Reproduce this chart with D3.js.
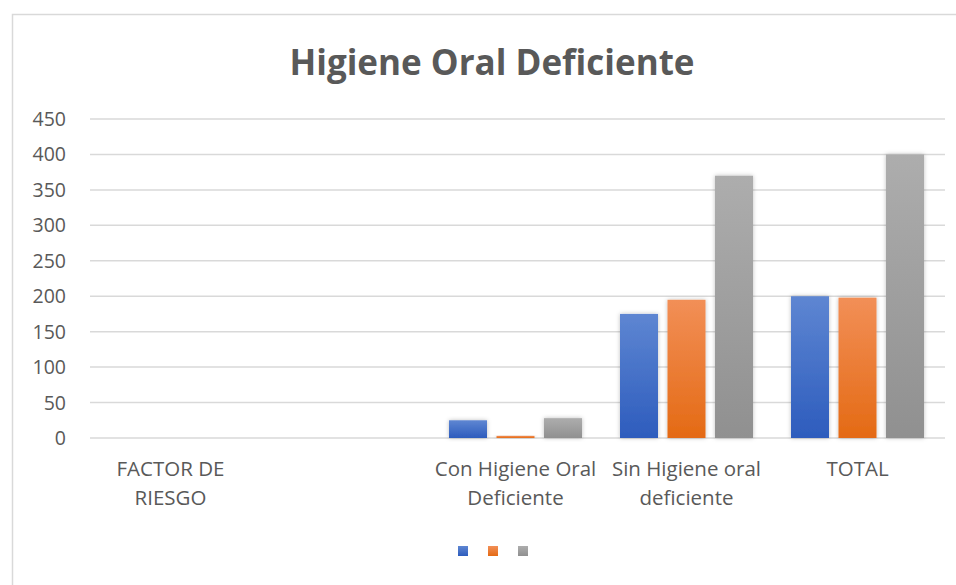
<!DOCTYPE html>
<html><head><meta charset="utf-8">
<script src="https://cdn.jsdelivr.net/npm/d3@7"></script>
<style>body{margin:0;background:#fff;}svg{display:block;font-family:"Open Sans",sans-serif;}</style>
</head><body>
<script>
const categories = [["FACTOR DE","RIESGO"],[""],["Con Higiene Oral","Deficiente"],["Sin Higiene oral","deficiente"],["TOTAL"]];
const seriesA = [0, 0, 25, 175, 200];
const seriesB = [0, 0, 3, 195, 198];
const seriesC = [0, 0, 28, 370, 400];
const yTicks = [0,50,100,150,200,250,300,350,400,450];
const title = "Higiene Oral Deficiente";

const W=956,H=585;
const svg=d3.select("body").append("svg").attr("width",W).attr("height",H);
const defs=svg.append("defs");
const grads=[["gA","#5e86d2","#2d5cbd"],["gB","#f28f57","#e46a14"],["gC","#adadad","#909090"]];
grads.forEach(([id,t,b])=>{const g=defs.append("linearGradient").attr("id",id).attr("x1",0).attr("y1",0).attr("x2",0).attr("y2",1);
g.append("stop").attr("offset","0%").attr("stop-color",t);g.append("stop").attr("offset","100%").attr("stop-color",b);});
const f=defs.append("filter").attr("id","sh").attr("x","-20%").attr("y","-20%").attr("width","140%").attr("height","140%");
f.append("feDropShadow").attr("dx",0).attr("dy",0).attr("stdDeviation",2).attr("flood-color","#000").attr("flood-opacity",0.25);

svg.append("rect").attr("x",12.5).attr("y",14.5).attr("width",W).attr("height",H).attr("fill","#fff").attr("stroke","#d9d9d9").attr("stroke-width",1.5);

const x0=d3.scaleBand().domain(d3.range(categories.length)).range([88,943]);
const names=["A","B","C"];
const x1=d3.scaleBand().domain(names).range([0,x0.bandwidth()]).paddingInner(0.2).paddingOuter(0.4);
const y=d3.scaleLinear().domain([0,450]).range([438,119]);

const g=svg.append("g");
g.selectAll("line.grid").data(yTicks).join("line").attr("x1",90).attr("x2",945)
 .attr("y1",d=>y(d)).attr("y2",d=>y(d)).attr("stroke","#d9d9d9").attr("stroke-width",1.5);
g.selectAll("text.yt").data(yTicks).join("text").attr("x",66).attr("y",d=>y(d)).attr("dy","0.36em")
 .attr("text-anchor","end").attr("fill","#595959").attr("font-size",19.5).text(d=>d);

const series=[seriesA,seriesB,seriesC];
series.forEach((s,i)=>{
  g.selectAll("rect.s"+i).data(s).join("rect").attr("filter","url(#sh)")
   .attr("x",(d,j)=>x0(j)+x1(names[i])).attr("width",x1.bandwidth())
   .attr("y",d=>y(d)).attr("height",d=>y(0)-y(d)).attr("fill","url(#"+grads[i][0]+")");
});

categories.forEach((lines,j)=>{
  const t=g.append("text").attr("text-anchor","middle").attr("fill","#595959").attr("font-size",20.5);
  lines.forEach((l,k)=>t.append("tspan").attr("x",x0(j)+x0.bandwidth()/2 - (j===0?3:0)).attr("y",476+k*29).text(l));
});

svg.append("text").attr("x",492).attr("y",75).attr("text-anchor","middle").attr("fill","#595959")
 .attr("font-size",35).attr("font-weight","bold").text(title);

[0,1,2].forEach(i=>svg.append("rect").attr("x",458+i*30).attr("y",546).attr("width",10).attr("height",10).attr("fill","url(#"+grads[i][0]+")"));
</script>
</body></html>
